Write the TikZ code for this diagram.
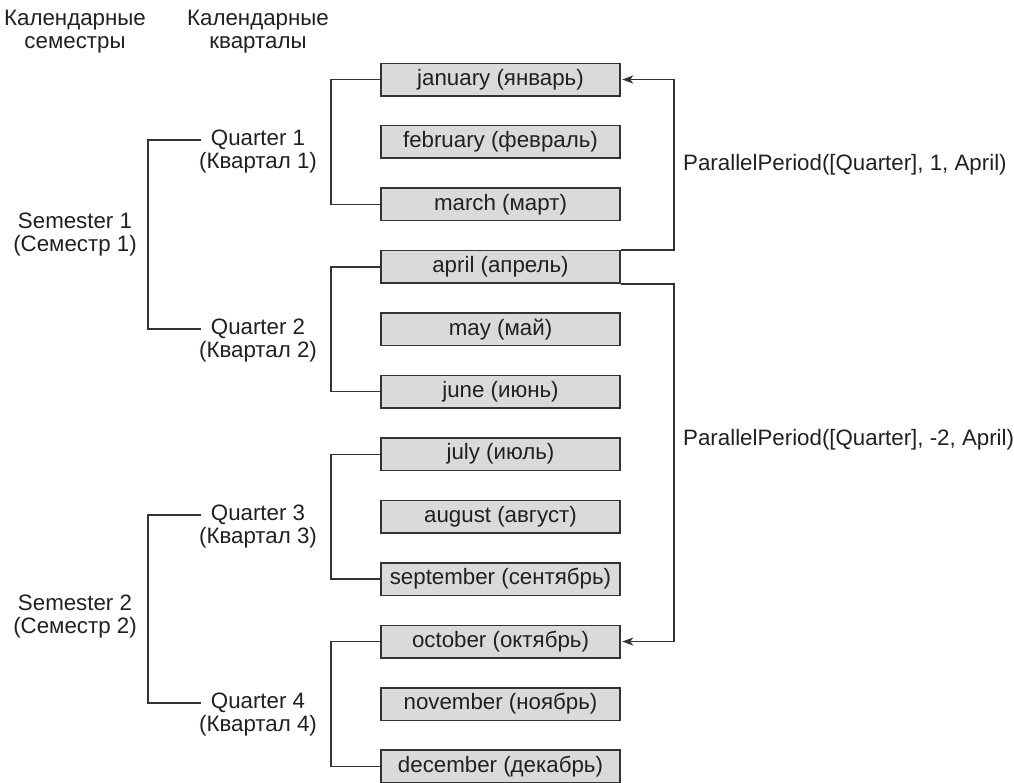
\documentclass[tikz,border=0pt]{standalone}
\usepackage{fontspec}
\setmainfont{Liberation Sans}
\usetikzlibrary{arrows.meta}
\definecolor{txt}{HTML}{231F20}
\definecolor{ln}{HTML}{333333}
\definecolor{boxfill}{HTML}{DADADA}
\tikzset{
  base/.style={font=\fontsize{22.3}{23}\selectfont, text=txt},
  month/.style={base, draw=ln, fill=boxfill, line width=1.5pt, minimum width=239pt, minimum height=32.5pt, inner sep=0pt},
  label/.style={base, align=center, inner sep=0pt},
  qtitle/.style={base, inner xsep=10pt, inner ysep=0pt},
  conn/.style={draw=ln, line width=1.4pt},
  arr/.style={conn, -{Stealth[length=11pt,width=8pt,inset=3pt]}},
}
\begin{document}
\begin{tikzpicture}[x=1pt,y=-1pt]
\useasboundingbox (0,0) rectangle (1014,782);
% headers
\node[label] (h1) at (75,31.5) {Календарные\\семестры};
\node[label] (h2) at (258,31.5) {Календарные\\кварталы};
% months
\foreach \n/\t [count=\i from 0] in {m1/january (январь), m2/february (февраль), m3/march (март), m4/april (апрель), m5/may (май), m6/june (июнь), m7/july (июль), m8/august (август), m9/september (сентябрь), m10/october (октябрь), m11/november (ноябрь), m12/december (декабрь)}
  \node[month] (\n) at (500.5, 79.5+62.45*\i) {\t};
% quarters
\node[qtitle] (q1) at (258,140) {Quarter 1};
\node[label] (q1b) at (258,163) {(Квартал 1)};
\node[qtitle] (q2) at (258,329) {Quarter 2};
\node[label] (q2b) at (258,352) {(Квартал 2)};
\node[qtitle] (q3) at (258,515) {Quarter 3};
\node[label] (q3b) at (258,538) {(Квартал 3)};
\node[qtitle] (q4) at (258,703) {Quarter 4};
\node[label] (q4b) at (258,726) {(Квартал 4)};
% semesters
\node[label] (s1) at (75,234.5) {Semester 1\\(Семестр 1)};
\node[label] (s2) at (75,616.5) {Semester 2\\(Семестр 2)};
% bracket x positions
\coordinate (sx) at (148,0);
\coordinate (qx) at (331,0);
\coordinate (rx) at (674,0);
% semester brackets
\draw[conn] (q1.west) -- (q1.west -| sx) -- (q2.west -| sx) -- (q2.west);
\draw[conn] (q3.west) -- (q3.west -| sx) -- (q4.west -| sx) -- (q4.west);
% quarter brackets
\draw[conn] (m1.west) -- (m1.west -| qx) -- (m3.west -| qx) -- (m3.west);
\draw[conn] (m4.west) -- (m4.west -| qx) -- (m6.west -| qx) -- (m6.west);
\draw[conn] (m7.west) -- (m7.west -| qx) -- (m9.west -| qx) -- (m9.west);
\draw[conn] (m10.west) -- (m10.west -| qx) -- (m12.west -| qx) -- (m12.west);
% parallel period arrows
\draw[arr] (m4.north east) -- (m4.north east -| rx) -- (m1.east -| rx) -- ([xshift=1.5pt]m1.east);
\draw[arr] (m4.south east) -- (m4.south east -| rx) -- (m10.east -| rx) -- ([xshift=1.5pt]m10.east);
% labels
\node[base, anchor=west, inner sep=0pt] (p1) at (683,165) {ParallelPeriod([Quarter], 1, April)};
\node[base, anchor=west, inner sep=0pt] (p2) at (683,440) {ParallelPeriod([Quarter], -2, April)};
\end{tikzpicture}
\end{document}
